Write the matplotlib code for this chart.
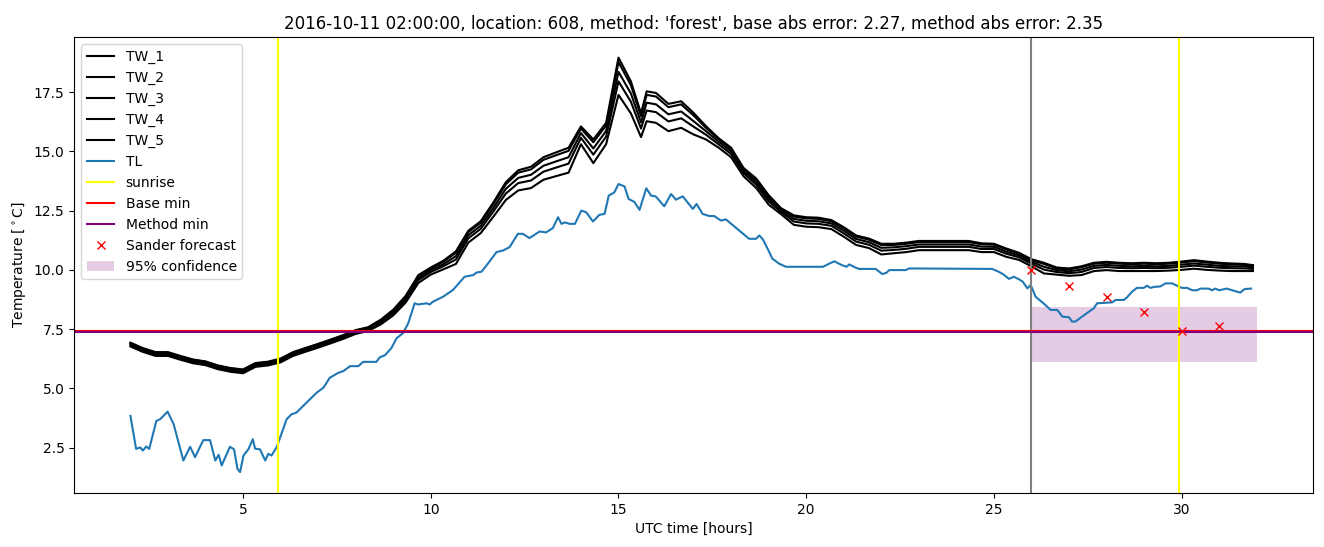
import numpy as np
import matplotlib
matplotlib.use("Agg")
import matplotlib.pyplot as plt


# ---- TW sensor series ----
TW_HOURS = [2.00, 2.33, 2.67, 3.00, 3.33, 3.67, 4.00, 4.33, 4.67, 5.00, 5.33, 5.67,
            6.00, 6.33, 6.67, 7.00, 7.33, 7.67, 8.00, 8.33, 8.67, 9.00, 9.33, 9.67,
            10.00, 10.33, 10.67, 11.00, 11.33, 11.67, 12.00, 12.33, 12.67, 13.00, 13.33, 13.67,
            14.00, 14.33, 14.67, 15.00, 15.33, 15.60, 15.75,
            16.00, 16.33, 16.67, 17.00, 17.33, 17.67, 18.00, 18.33, 18.67, 19.00, 19.33, 19.67,
            20.00, 20.33, 20.67, 21.00, 21.33, 21.67, 22.00, 22.33, 22.67, 23.00, 23.33, 23.67,
            24.00, 24.33, 24.67, 25.00, 25.33, 25.67, 26.00, 26.33, 26.67, 27.00, 27.33, 27.67,
            28.00, 28.33, 28.67, 29.00, 29.33, 29.67, 30.00, 30.33, 30.67, 31.00, 31.33, 31.67,
            31.90]

TW_1 = [6.93, 6.70, 6.53, 6.53, 6.37, 6.22, 6.14, 5.97, 5.86, 5.80, 6.07, 6.13,
        6.26, 6.53, 6.71, 6.88, 7.06, 7.25, 7.46, 7.58, 7.90, 8.32, 8.90, 9.78,
        10.10, 10.38, 10.78, 11.65, 12.05, 12.85, 13.70, 14.20, 14.35, 14.75, 14.95, 15.15,
        16.05, 15.50, 16.20, 18.95, 17.95, 16.60, 17.53,
        17.46, 17.00, 17.11, 16.62, 16.06, 15.55, 15.15, 14.30, 13.85, 13.15, 12.60, 12.30,
        12.22, 12.20, 12.10, 11.80, 11.45, 11.32, 11.10, 11.10, 11.15, 11.22, 11.22, 11.22,
        11.22, 11.22, 11.12, 11.10, 10.90, 10.72, 10.45, 10.30, 10.10, 10.06, 10.15, 10.30,
        10.34, 10.30, 10.28, 10.30, 10.28, 10.30, 10.35, 10.41, 10.35, 10.30, 10.27, 10.25,
        10.20]

TW_2 = [6.91, 6.68, 6.51, 6.51, 6.35, 6.20, 6.12, 5.95, 5.84, 5.78, 6.05, 6.11,
        6.24, 6.51, 6.69, 6.86, 7.04, 7.23, 7.44, 7.56, 7.88, 8.29, 8.87, 9.74,
        10.06, 10.34, 10.72, 11.59, 11.99, 12.78, 13.61, 14.10, 14.24, 14.64, 14.83, 15.02,
        15.96, 15.38, 16.09, 18.76, 17.79, 16.48, 17.38,
        17.31, 16.86, 16.98, 16.51, 15.99, 15.50, 15.10, 14.26, 13.80, 13.10, 12.57, 12.25,
        12.17, 12.15, 12.05, 11.75, 11.40, 11.27, 11.05, 11.05, 11.10, 11.17, 11.17, 11.17,
        11.17, 11.17, 11.08, 11.06, 10.86, 10.68, 10.41, 10.25, 10.06, 10.02, 10.11, 10.26,
        10.30, 10.26, 10.24, 10.26, 10.24, 10.26, 10.31, 10.37, 10.31, 10.26, 10.23, 10.21,
        10.17]

TW_3 = [6.87, 6.64, 6.47, 6.47, 6.31, 6.16, 6.08, 5.91, 5.80, 5.74, 6.01, 6.07,
        6.20, 6.47, 6.65, 6.82, 7.00, 7.19, 7.40, 7.52, 7.82, 8.23, 8.79, 9.65,
        9.99, 10.24, 10.58, 11.46, 11.86, 12.62, 13.42, 13.88, 14.01, 14.39, 14.57, 14.75,
        15.77, 15.12, 15.86, 18.35, 17.44, 16.22, 17.05,
        16.98, 16.56, 16.68, 16.27, 15.85, 15.40, 15.00, 14.17, 13.70, 13.00, 12.51, 12.15,
        12.07, 12.05, 11.96, 11.65, 11.30, 11.17, 10.93, 10.95, 11.00, 11.07, 11.07, 11.07,
        11.07, 11.07, 10.98, 10.97, 10.77, 10.61, 10.34, 10.13, 9.99, 9.94, 10.01, 10.17,
        10.21, 10.17, 10.15, 10.17, 10.15, 10.17, 10.22, 10.27, 10.22, 10.17, 10.15, 10.14,
        10.11]

TW_4 = [6.83, 6.60, 6.43, 6.43, 6.27, 6.12, 6.04, 5.87, 5.76, 5.70, 5.97, 6.03,
        6.16, 6.43, 6.61, 6.78, 6.96, 7.15, 7.36, 7.48, 7.77, 8.17, 8.72, 9.57,
        9.91, 10.15, 10.44, 11.33, 11.73, 12.47, 13.22, 13.66, 13.77, 14.14, 14.31, 14.48,
        15.57, 14.86, 15.62, 17.95, 17.09, 15.96, 16.72,
        16.65, 16.26, 16.39, 16.04, 15.70, 15.29, 14.89, 14.08, 13.59, 12.89, 12.44, 12.04,
        11.96, 11.94, 11.86, 11.54, 11.19, 11.06, 10.81, 10.84, 10.89, 10.97, 10.97, 10.97,
        10.97, 10.97, 10.88, 10.88, 10.68, 10.53, 10.26, 10.01, 9.91, 9.86, 9.91, 10.08,
        10.12, 10.08, 10.07, 10.08, 10.07, 10.09, 10.13, 10.18, 10.13, 10.09, 10.07, 10.06,
        10.04]

TW_5 = [6.77, 6.54, 6.37, 6.37, 6.21, 6.06, 5.98, 5.81, 5.70, 5.64, 5.91, 5.97,
        6.10, 6.37, 6.55, 6.72, 6.90, 7.09, 7.30, 7.42, 7.70, 8.08, 8.62, 9.45,
        9.80, 10.02, 10.25, 11.15, 11.55, 12.25, 12.95, 13.35, 13.45, 13.80, 13.95, 14.10,
        15.30, 14.50, 15.30, 17.38, 16.60, 15.60, 16.27,
        16.20, 15.85, 15.99, 15.71, 15.50, 15.15, 14.75, 13.95, 13.45, 12.75, 12.35, 11.90,
        11.82, 11.80, 11.72, 11.40, 11.05, 10.92, 10.65, 10.70, 10.75, 10.83, 10.83, 10.83,
        10.83, 10.83, 10.75, 10.75, 10.55, 10.42, 10.15, 9.85, 9.80, 9.75, 9.78, 9.95,
        9.99, 9.95, 9.95, 9.95, 9.95, 9.97, 10.00, 10.05, 10.00, 9.97, 9.95, 9.95,
        9.95]

# ---- TL series ----
TL_HOURS = [2.00, 2.15, 2.26, 2.33, 2.42, 2.50, 2.69, 2.79, 2.99, 3.15, 3.41, 3.59,
            3.72, 3.94, 4.12, 4.26, 4.35, 4.43, 4.65, 4.76, 4.85, 4.92, 5.01, 5.14,
            5.26, 5.32, 5.45, 5.59, 5.67, 5.76, 5.90, 6.16, 6.29, 6.42, 6.60, 6.78,
            6.96, 7.14, 7.31, 7.54, 7.67, 7.85, 8.07, 8.20, 8.55, 8.64, 8.78, 8.95,
            9.09, 9.26, 9.40, 9.57, 9.66, 9.89, 9.97, 10.06, 10.33, 10.59, 10.90, 11.13,
            11.22, 11.35, 11.52, 11.75, 11.93, 12.10, 12.32, 12.45, 12.63, 12.90, 13.07, 13.25,
            13.39, 13.48, 13.57, 13.70, 13.84, 14.01, 14.14, 14.32, 14.49, 14.63, 14.74, 14.89,
            15.00, 15.16, 15.27, 15.42, 15.56, 15.74, 15.87, 15.99, 16.22, 16.40, 16.53, 16.71,
            16.98, 17.08, 17.24, 17.42, 17.55, 17.73, 17.86, 18.48, 18.66, 18.75, 18.84, 18.97,
            19.10, 19.28, 19.46, 20.45, 20.61, 20.75, 20.95, 21.07, 21.15, 21.32, 21.41, 21.85,
            22.03, 22.14, 22.21, 22.65, 22.74, 24.95, 25.13, 25.26, 25.40, 25.53, 25.67, 25.77,
            25.89, 25.98, 26.11, 26.37, 26.51, 26.69, 26.82, 27.00, 27.08, 27.17, 27.35, 27.66,
            27.75, 28.15, 28.24, 28.46, 28.55, 28.68, 28.81, 28.99, 29.08, 29.17, 29.26, 29.43,
            29.57, 29.75, 29.88, 30.01, 30.15, 30.28, 30.41, 30.50, 30.72, 30.81, 30.90, 31.00,
            31.20, 31.43, 31.56, 31.68, 31.85]

TL = [3.84, 2.45, 2.51, 2.38, 2.55, 2.45, 3.63, 3.70, 4.02, 3.49, 1.96, 2.54,
      2.10, 2.82, 2.82, 1.96, 2.20, 1.75, 2.54, 2.43, 1.61, 1.47, 2.17, 2.43,
      2.86, 2.46, 2.43, 1.96, 2.24, 2.17, 2.54, 3.70, 3.91, 3.98, 4.26, 4.54,
      4.82, 5.03, 5.45, 5.66, 5.73, 5.94, 5.94, 6.12, 6.12, 6.31, 6.40, 6.70,
      7.12, 7.33, 7.75, 8.59, 8.54, 8.59, 8.54, 8.66, 8.87, 9.15, 9.71, 9.78,
      9.89, 9.92, 10.26, 10.75, 10.82, 10.96, 11.52, 11.52, 11.34, 11.62, 11.58, 11.76,
      12.22, 11.94, 12.00, 11.94, 11.94, 12.50, 12.43, 12.04, 12.32, 12.36, 13.13, 13.27,
      13.62, 13.52, 12.99, 12.87, 12.53, 13.44, 13.13, 13.10, 12.68, 13.20, 12.96, 13.10,
      12.57, 12.78, 12.36, 12.27, 12.27, 12.08, 12.13, 11.31, 11.31, 11.45, 11.30, 10.90,
      10.47, 10.26, 10.13, 10.13, 10.26, 10.36, 10.20, 10.13, 10.23, 10.09, 10.04, 10.04,
      9.82, 9.88, 9.99, 9.99, 10.06, 10.04, 9.92, 9.80, 9.62, 9.71, 9.60, 9.50,
      9.22, 9.36, 8.87, 8.52, 8.31, 8.31, 8.03, 8.00, 7.82, 7.82, 8.03, 8.38,
      8.59, 8.63, 8.73, 8.73, 8.85, 9.08, 9.24, 9.24, 9.33, 9.24, 9.28, 9.30,
      9.43, 9.43, 9.33, 9.24, 9.24, 9.14, 9.14, 9.21, 9.21, 9.14, 9.21, 9.14,
      9.21, 9.10, 9.04, 9.19, 9.21]

# ---- markers / reference lines ----
SUNRISE_HOURS = [5.93, 29.93]
FORECAST_START = 26.0
BASE_MIN = 7.43
METHOD_MIN = 7.36
SANDER_HOURS = [26, 27, 28, 29, 30, 31]
SANDER_TEMP = [9.99, 9.32, 8.87, 8.24, 7.43, 7.65]
CONF_HOURS = [26.0, 32.0]
CONF_LOW = [6.13, 6.13]
CONF_HIGH = [8.45, 8.45]

TITLE = ("2016-10-11 02:00:00, location: 608, method: 'forest', "
         "base abs error: 2.27, method abs error: 2.35")


def main():
    fig = plt.figure(figsize=(13.24, 5.47), dpi=100)
    ax = fig.add_axes([0.056, 0.099, 0.9357, 0.8335])

    for name, vals in [("TW_1", TW_1), ("TW_2", TW_2), ("TW_3", TW_3),
                       ("TW_4", TW_4), ("TW_5", TW_5)]:
        ax.plot(TW_HOURS, vals, color="black", label=name)
    ax.plot(TL_HOURS, TL, color="tab:blue", label="TL")

    for i, h in enumerate(SUNRISE_HOURS):
        ax.axvline(h, color="yellow", label="sunrise" if i == 0 else None)
    ax.axvline(FORECAST_START, color="gray")

    ax.axhline(BASE_MIN, color="red", label="Base min")
    ax.axhline(METHOD_MIN, color="purple", label="Method min")

    ax.plot(SANDER_HOURS, SANDER_TEMP, "rx", label="Sander forecast")
    ax.fill_between(CONF_HOURS, CONF_LOW, CONF_HIGH, color="purple", alpha=0.2,
                    linewidth=0, label="95% confidence")

    ax.set_xlabel("UTC time [hours]")
    ax.set_ylabel(r"Temperature [$^\circ$C]")
    ax.set_title(TITLE)
    ax.legend(loc="upper left")

    fig.savefig("out.png", dpi=100)
    plt.close(fig)


if __name__ == "__main__":
    main()
